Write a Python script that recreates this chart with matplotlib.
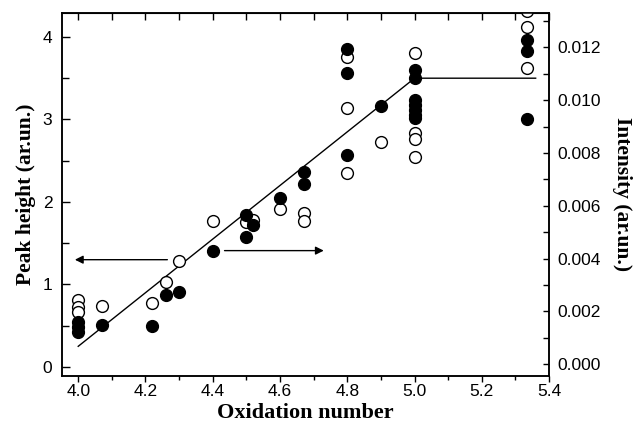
import matplotlib
matplotlib.use('Agg')
import matplotlib.pyplot as plt
from matplotlib.ticker import MultipleLocator, FormatStrFormatter

# peak height (open circles, left axis)
open_x = [4.0, 4.0, 4.0, 4.07, 4.22, 4.26, 4.30, 4.40, 4.50, 4.52, 4.60, 4.67, 4.67,
          4.80, 4.80, 4.80, 4.90, 5.00, 5.00, 5.00, 5.00, 5.333, 5.333, 5.333]
open_y = [0.81, 0.73, 0.67, 0.74, 0.78, 1.03, 1.28, 1.77, 1.76, 1.78, 1.92, 1.86, 1.77,
          3.76, 3.14, 2.35, 2.73, 3.81, 2.83, 2.76, 2.54, 4.31, 4.12, 3.62]

# intensity (filled circles, right axis)
filled_x = [4.0, 4.0, 4.0, 4.07, 4.22, 4.26, 4.30, 4.40, 4.50, 4.52, 4.50, 4.60, 4.67, 4.67,
            4.80, 4.80, 4.80, 4.90, 5.0, 5.0, 5.0, 5.0, 5.0, 5.0, 5.0, 5.333, 5.333, 5.333]
filled_y = [0.00160, 0.00141, 0.00122, 0.00148, 0.00145, 0.00261, 0.00274, 0.00428,
            0.00566, 0.00528, 0.00483, 0.00631, 0.00729, 0.00681,
            0.01195, 0.01101, 0.00791, 0.00976,
            0.01114, 0.01085, 0.01001, 0.00983, 0.00963, 0.00944, 0.00932,
            0.01227, 0.01188, 0.00928]

# guide line (left axis units)
fit_x = [4.0, 5.0, 5.36]
fit_y = [0.25, 3.5, 3.5]

tick_font = 'Liberation Sans'
xlabel_font = dict(family='Liberation Serif', weight='bold', size=16)
ylabel_font = dict(family='Liberation Serif', weight='bold', size=15.5)

fig = plt.figure(figsize=(6.4, 4.34), dpi=100)
ax = fig.add_axes([0.097, 0.1336, 0.761, 0.8364])
ax2 = ax.twinx()

ax.plot(fit_x, fit_y, color='black', lw=1.0, zorder=2)
ax.plot(open_x, open_y, 'o', ms=8.5, mfc='white', mec='black', mew=1.0,
        ls='none', zorder=3)
ax2.plot(filled_x, filled_y, 'o', ms=8.5, mfc='black', mec='black',
         ls='none', zorder=3)

ax.set_xlim(3.952, 5.4)
ax.set_ylim(-0.11, 4.29)
ax2.set_ylim(-0.00045, 0.0133)

# arrows pointing to the axis each series belongs to
ax.annotate('', xy=(3.99, 1.30), xytext=(4.265, 1.30),
            arrowprops=dict(arrowstyle='-|>', color='black', lw=1.0,
                            mutation_scale=12, shrinkA=0, shrinkB=0))
ax.annotate('', xy=(4.73, 1.41), xytext=(4.435, 1.41),
            arrowprops=dict(arrowstyle='-|>', color='black', lw=1.0,
                            mutation_scale=12, shrinkA=0, shrinkB=0))

ax.xaxis.set_major_locator(MultipleLocator(0.2))
ax.xaxis.set_minor_locator(MultipleLocator(0.1))
ax.xaxis.set_major_formatter(FormatStrFormatter('%.1f'))
ax.yaxis.set_major_locator(MultipleLocator(1))
ax.yaxis.set_minor_locator(MultipleLocator(0.5))
ax2.yaxis.set_major_locator(MultipleLocator(0.002))
ax2.yaxis.set_minor_locator(MultipleLocator(0.001))
ax2.yaxis.set_major_formatter(FormatStrFormatter('%.3f'))

ax.tick_params(axis='x', which='major', direction='out', length=4, width=1, pad=1.5)
ax.tick_params(axis='x', which='minor', direction='out', length=3, width=1)
ax.tick_params(axis='y', which='major', direction='in', length=6, width=1, pad=7)
ax.tick_params(axis='y', which='minor', direction='in', length=5, width=1)
ax2.tick_params(axis='y', which='major', direction='in', length=4, width=1, pad=6)
ax2.tick_params(axis='y', which='minor', direction='in', length=4, width=1)

top = ax.secondary_xaxis('top')
top.xaxis.set_major_locator(MultipleLocator(0.1))
top.tick_params(direction='in', length=5, width=1, labeltop=False)

for a in (ax, ax2):
    for lab in a.get_xticklabels() + a.get_yticklabels():
        lab.set_fontfamily(tick_font)
        lab.set_fontsize(12.5)
    for s in a.spines.values():
        s.set_linewidth(1.1)

ax.set_xlabel('Oxidation number', fontdict=xlabel_font, labelpad=3)
ax.set_ylabel('Peak height (ar.un.)', fontdict=ylabel_font, labelpad=5)
ax2.set_ylabel('Intensity (ar.un.)', fontdict=ylabel_font, rotation=270, labelpad=22)

fig.savefig('out.png', dpi=100)
plt.close(fig)
